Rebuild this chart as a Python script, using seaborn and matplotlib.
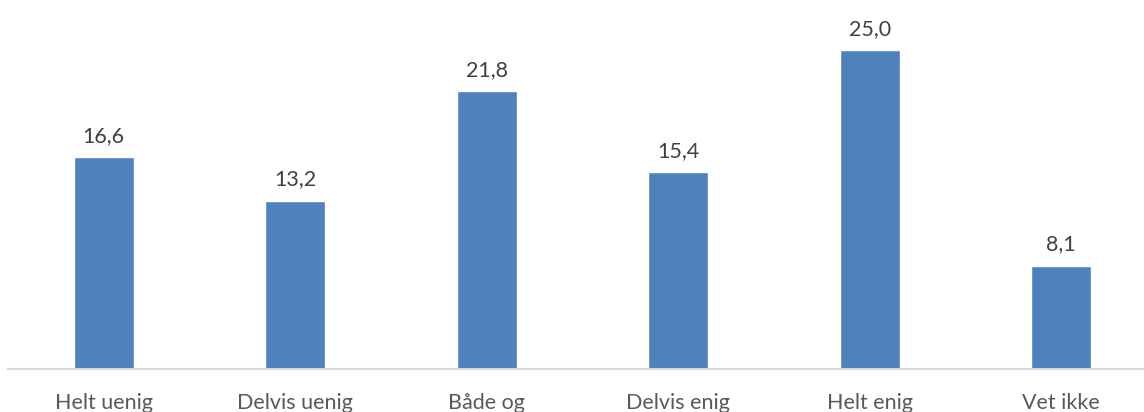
import pandas as pd
import seaborn as sns
import matplotlib.pyplot as plt

categories = ['Helt uenig', 'Delvis uenig', 'Både og', 'Delvis enig', 'Helt enig', 'Vet ikke']
values = [16.6, 13.2, 21.8, 15.4, 25.0, 8.1]

df = pd.DataFrame({'svar': categories, 'prosent': values})

sns.set_style('white')
plt.rcParams['font.family'] = ['Lato', 'DejaVu Sans']

fig = plt.figure(figsize=(11.44, 4.12), dpi=100)
ax = fig.add_axes([8 / 1144, 43 / 412, 1 - 8 / 1144, 369 / 412])

sns.barplot(x='svar', y='prosent', data=df, color='#4F81BD', width=0.313,
            saturation=1, ax=ax)

labels = [f'{v:.1f}'.replace('.', ',') for v in values]
ax.bar_label(ax.containers[0], labels=labels, padding=8, fontsize=15.5, color='#404040')

ax.set_xlim(-0.5, -0.5 + 1136 / 191.5)
ax.set_ylim(0, 369 / 12.76)
ax.set_xlabel('')
ax.set_ylabel('')
ax.set_yticks([])
ax.tick_params(axis='x', length=0, pad=17, labelsize=15.5, labelcolor='#595959')
for side in ['top', 'right', 'left']:
    ax.spines[side].set_visible(False)
ax.spines['bottom'].set_color('#D9D9D9')
ax.spines['bottom'].set_linewidth(1.5)

fig.savefig('out.png', dpi=100)
